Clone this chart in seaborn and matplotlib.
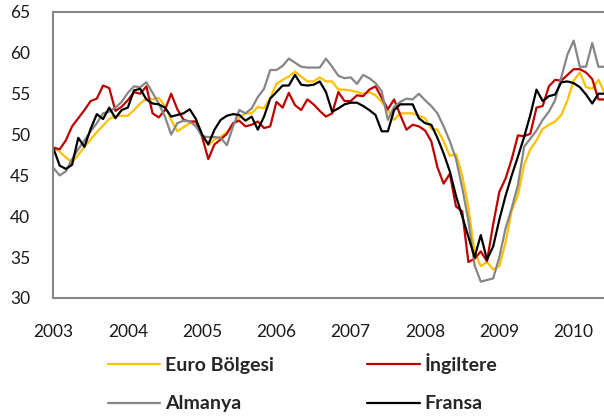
import matplotlib
matplotlib.use("Agg")
import matplotlib.pyplot as plt
import numpy as np
import pandas as pd
import seaborn as sns
from matplotlib.lines import Line2D

# monthly index, Mar 2003 .. Aug 2010
euro = [48.4, 47.9, 47.2, 46.6, 47.5, 48.5, 49.4, 50.3, 51.1, 51.9, 52.3, 52.3,
        52.3, 53.0, 53.8, 54.4, 54.3, 54.5, 53.5, 51.8, 50.4, 50.9, 51.4, 51.5,
        49.8, 48.7, 49.4, 49.7, 50.3, 51.2, 52.1, 52.6, 52.6, 53.4, 53.2, 54.5,
        56.2, 56.7, 57.1, 57.7, 57.1, 56.5, 56.5, 57.0, 56.5, 56.5, 55.5, 55.5,
        55.4, 55.2, 55.0, 55.2, 54.8, 54.0, 53.0, 51.8, 52.6, 52.6, 52.6, 52.3,
        52.0, 50.7, 50.6, 49.2, 47.4, 47.6, 45.0, 41.1, 35.6, 33.9, 34.4, 33.5,
        33.9, 36.8, 40.7, 42.6, 46.3, 48.2, 49.3, 50.7, 51.2, 51.6, 52.4, 54.2,
        56.6, 57.6, 55.8, 55.6, 56.7, 55.1]
ingiltere = [48.4, 48.2, 49.3, 51.0, 52.0, 53.0, 54.1, 54.4, 56.0, 55.7, 52.9, 53.4,
             54.2, 55.2, 55.0, 55.9, 52.6, 52.1, 53.0, 55.0, 53.1, 51.8, 51.6, 51.6,
             49.7, 47.0, 48.8, 49.4, 50.1, 51.4, 51.7, 51.0, 51.2, 51.6, 50.8, 51.0,
             54.0, 53.3, 55.1, 53.6, 53.0, 54.3, 53.7, 52.9, 52.2, 52.6, 55.2, 54.1,
             54.1, 54.8, 54.7, 55.5, 55.9, 54.5, 53.1, 54.3, 52.4, 50.6, 51.2, 51.0,
             50.5, 49.2, 46.0, 44.0, 45.2, 41.2, 40.6, 34.4, 34.8, 35.7, 34.5, 39.0,
             43.0, 44.6, 47.0, 49.9, 49.8, 50.1, 53.3, 53.5, 55.9, 56.7, 56.6, 57.3,
             58.0, 58.0, 57.6, 56.8, 54.3, 54.3]
almanya = [45.9, 45.0, 45.5, 47.0, 48.2, 49.3, 50.4, 51.4, 52.6, 52.8, 53.3, 54.0,
           55.1, 55.9, 55.8, 56.4, 55.1, 53.8, 52.2, 50.0, 51.4, 51.7, 51.6, 51.0,
           49.8, 49.7, 49.7, 49.6, 48.7, 51.0, 53.0, 52.6, 53.2, 54.6, 55.6, 57.9,
           57.9, 58.4, 59.3, 58.8, 58.3, 58.2, 58.2, 58.2, 59.3, 58.3, 57.2, 56.9,
           57.0, 56.2, 57.3, 56.9, 56.3, 55.3, 51.8, 53.4, 54.0, 54.4, 54.3, 55.0,
           54.2, 53.5, 52.6, 51.0, 49.2, 47.0, 43.5, 39.5, 34.0, 32.0, 32.2, 32.4,
           35.0, 38.5, 41.0, 43.8, 48.5, 49.5, 50.5, 51.8, 52.8, 54.2, 57.0, 59.8,
           61.5, 58.3, 58.3, 61.2, 58.3, 58.3]
fransa = [48.3, 46.2, 45.8, 46.3, 49.6, 48.5, 50.7, 52.5, 51.9, 53.3, 52.0, 53.0,
          53.3, 55.4, 55.6, 54.3, 53.8, 53.7, 53.3, 52.2, 52.4, 52.6, 53.1, 51.9,
          50.0, 48.8, 50.6, 51.8, 52.3, 52.5, 52.4, 51.7, 52.2, 50.6, 52.2, 54.4,
          55.2, 56.0, 56.0, 57.3, 56.1, 56.0, 56.1, 56.5, 55.2, 52.8, 53.2, 53.7,
          53.9, 53.9, 53.5, 53.0, 52.4, 50.4, 50.4, 53.0, 53.7, 53.7, 53.7, 52.0,
          51.4, 51.2, 49.6, 47.7, 45.5, 42.5, 40.0, 37.5, 35.0, 37.7, 34.7, 36.3,
          39.6, 42.5, 45.0, 47.3, 49.7, 52.4, 55.5, 54.1, 54.7, 54.9, 56.4, 56.5,
          56.3, 55.8, 54.9, 53.8, 55.0, 55.0]

years = ["2003", "2004", "2005", "2006", "2007", "2008", "2009", "2010"]
series_names = ["Euro Bölgesi", "İngiltere", "Almanya", "Fransa"]
colors = {"Euro Bölgesi": "#FFC000", "İngiltere": "#C00000",
          "Almanya": "#868686", "Fransa": "#000000"}

months = np.arange(len(euro))
df = pd.DataFrame({
    "ay": np.tile(months, 4),
    "deger": euro + ingiltere + almanya + fransa,
    "seri": np.repeat(series_names, len(months)),
})

sns.set_style("white")
plt.rcParams["font.family"] = ["Lato", "DejaVu Sans"]

fig = plt.figure(figsize=(6.04, 4.18), dpi=100)
ax = fig.add_axes([52.5 / 604, 1 - 298 / 418, 1 - 52.5 / 604, 286 / 418])

sns.lineplot(data=df, x="ay", y="deger", hue="seri", hue_order=series_names,
             palette=colors, linewidth=1.6, estimator=None, legend=False, ax=ax)

axis_grey = "#868686"
ax.set_xlim(-0.16, 88.9)
ax.set_ylim(30, 65)
ax.set_xticks(np.arange(0, 85, 12))
ax.set_xticklabels(years)
ax.set_yticks(np.arange(30, 66, 5))
ax.set_xlabel("")
ax.set_ylabel("")
for side in ["left", "bottom", "top"]:
    ax.spines[side].set_color(axis_grey)
    ax.spines[side].set_linewidth(1.5)
ax.spines["right"].set_visible(False)
ax.tick_params(axis="both", direction="out", length=5, width=1.5,
               color=axis_grey, labelcolor="#1a1a1a", labelsize=12.5)
ax.tick_params(axis="x", pad=14)
ax.tick_params(axis="y", pad=11)

handles = [Line2D([], [], color=colors[n], lw=1.6) for n in series_names]
order = [0, 2, 1, 3]
leg = fig.legend([handles[i] for i in order], [series_names[i] for i in order],
                 loc="upper left", bbox_to_anchor=(98 / 604, 1 - 343 / 418),
                 ncol=2, frameon=False, borderpad=0, handlelength=2.7,
                 handletextpad=0.25, columnspacing=4.8, labelspacing=1.12,
                 prop={"weight": "bold", "size": 14})

fig.savefig("out.png", dpi=100)
